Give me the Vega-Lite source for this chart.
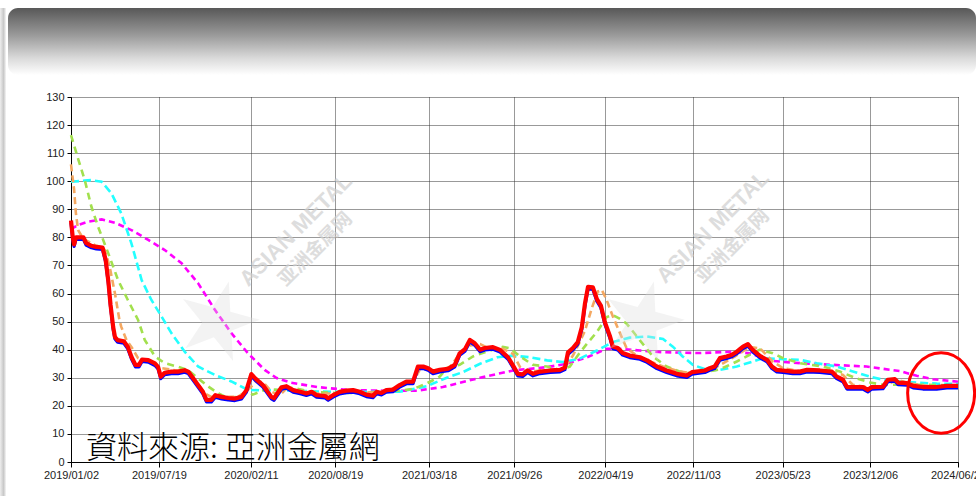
{
  "$schema": "https://vega.github.io/schema/vega-lite/v6.json",
  "autosize": {"type": "pad"},
  "padding": {"left": 0, "top": 8, "right": 0, "bottom": 10},
  "background": "#ffffff",
  "bounds": "flush",
  "spacing": 2,
  "config": {"view": {"stroke": null}, "font": "Liberation Sans"},
  "datasets": {
    "series": [
      {"d":"2019-01-02","s":"price","v":86},
      {"d":"2019-01-06","s":"price","v":80},
      {"d":"2019-01-09","s":"price","v":77.5},
      {"d":"2019-01-13","s":"price","v":80},
      {"d":"2019-01-30","s":"price","v":80},
      {"d":"2019-02-05","s":"price","v":78},
      {"d":"2019-02-17","s":"price","v":77},
      {"d":"2019-02-28","s":"price","v":76.6},
      {"d":"2019-03-14","s":"price","v":76.4},
      {"d":"2019-03-21","s":"price","v":72},
      {"d":"2019-03-27","s":"price","v":64.5},
      {"d":"2019-04-01","s":"price","v":56},
      {"d":"2019-04-07","s":"price","v":48},
      {"d":"2019-04-11","s":"price","v":44.5},
      {"d":"2019-04-17","s":"price","v":43.4},
      {"d":"2019-05-01","s":"price","v":43},
      {"d":"2019-05-10","s":"price","v":41},
      {"d":"2019-05-18","s":"price","v":37.5},
      {"d":"2019-05-27","s":"price","v":34.6},
      {"d":"2019-06-04","s":"price","v":34.6},
      {"d":"2019-06-11","s":"price","v":36.5},
      {"d":"2019-06-25","s":"price","v":36.3},
      {"d":"2019-07-10","s":"price","v":35.1},
      {"d":"2019-07-17","s":"price","v":33.9},
      {"d":"2019-07-23","s":"price","v":30.4},
      {"d":"2019-08-01","s":"price","v":31.8},
      {"d":"2019-08-16","s":"price","v":32.2},
      {"d":"2019-08-31","s":"price","v":32.2},
      {"d":"2019-09-15","s":"price","v":32.7},
      {"d":"2019-09-23","s":"price","v":32.2},
      {"d":"2019-10-04","s":"price","v":29.8},
      {"d":"2019-10-15","s":"price","v":27.4},
      {"d":"2019-10-26","s":"price","v":25},
      {"d":"2019-11-03","s":"price","v":22.1},
      {"d":"2019-11-14","s":"price","v":22.1},
      {"d":"2019-11-23","s":"price","v":23.8},
      {"d":"2019-12-07","s":"price","v":23.2},
      {"d":"2019-12-22","s":"price","v":22.8},
      {"d":"2020-01-06","s":"price","v":22.6},
      {"d":"2020-01-21","s":"price","v":23.2},
      {"d":"2020-02-01","s":"price","v":25.6},
      {"d":"2020-02-12","s":"price","v":31.3},
      {"d":"2020-02-22","s":"price","v":29.6},
      {"d":"2020-03-09","s":"price","v":27.4},
      {"d":"2020-03-28","s":"price","v":23.2},
      {"d":"2020-04-03","s":"price","v":22.7},
      {"d":"2020-04-20","s":"price","v":26.6},
      {"d":"2020-05-01","s":"price","v":27},
      {"d":"2020-05-16","s":"price","v":25.6},
      {"d":"2020-06-01","s":"price","v":25},
      {"d":"2020-06-15","s":"price","v":24.4},
      {"d":"2020-06-27","s":"price","v":25},
      {"d":"2020-07-08","s":"price","v":23.8},
      {"d":"2020-07-27","s":"price","v":23.5},
      {"d":"2020-08-03","s":"price","v":22.7},
      {"d":"2020-08-14","s":"price","v":23.8},
      {"d":"2020-08-29","s":"price","v":25},
      {"d":"2020-09-13","s":"price","v":25.4},
      {"d":"2020-09-28","s":"price","v":25.6},
      {"d":"2020-10-13","s":"price","v":25},
      {"d":"2020-10-28","s":"price","v":24},
      {"d":"2020-11-12","s":"price","v":23.6},
      {"d":"2020-11-20","s":"price","v":25},
      {"d":"2020-12-01","s":"price","v":24.6},
      {"d":"2020-12-12","s":"price","v":25.6},
      {"d":"2020-12-27","s":"price","v":25.8},
      {"d":"2021-01-11","s":"price","v":27.4},
      {"d":"2021-01-26","s":"price","v":28.6},
      {"d":"2021-02-10","s":"price","v":28.6},
      {"d":"2021-02-21","s":"price","v":34},
      {"d":"2021-03-05","s":"price","v":34},
      {"d":"2021-03-16","s":"price","v":33.4},
      {"d":"2021-03-27","s":"price","v":32.2},
      {"d":"2021-04-11","s":"price","v":32.8},
      {"d":"2021-04-30","s":"price","v":33.2},
      {"d":"2021-05-15","s":"price","v":34.6},
      {"d":"2021-05-26","s":"price","v":38.7},
      {"d":"2021-06-07","s":"price","v":40.2},
      {"d":"2021-06-18","s":"price","v":43.5},
      {"d":"2021-06-29","s":"price","v":42.3},
      {"d":"2021-07-11","s":"price","v":40},
      {"d":"2021-07-22","s":"price","v":40.6},
      {"d":"2021-08-09","s":"price","v":40.9},
      {"d":"2021-08-25","s":"price","v":39.9},
      {"d":"2021-09-12","s":"price","v":37.3},
      {"d":"2021-09-23","s":"price","v":34.4},
      {"d":"2021-10-04","s":"price","v":31.4},
      {"d":"2021-10-15","s":"price","v":31.2},
      {"d":"2021-10-26","s":"price","v":32.6},
      {"d":"2021-11-07","s":"price","v":31.4},
      {"d":"2021-11-23","s":"price","v":32.2},
      {"d":"2021-12-16","s":"price","v":32.6},
      {"d":"2022-01-07","s":"price","v":32.8},
      {"d":"2022-01-18","s":"price","v":33.6},
      {"d":"2022-01-25","s":"price","v":39.1},
      {"d":"2022-02-05","s":"price","v":40.6},
      {"d":"2022-02-16","s":"price","v":42.7},
      {"d":"2022-02-25","s":"price","v":48},
      {"d":"2022-03-04","s":"price","v":56.3},
      {"d":"2022-03-11","s":"price","v":62.4},
      {"d":"2022-03-22","s":"price","v":62.2},
      {"d":"2022-03-31","s":"price","v":58},
      {"d":"2022-04-09","s":"price","v":55.7},
      {"d":"2022-04-18","s":"price","v":49.8},
      {"d":"2022-04-29","s":"price","v":45},
      {"d":"2022-05-06","s":"price","v":41.1},
      {"d":"2022-05-17","s":"price","v":40.6},
      {"d":"2022-05-28","s":"price","v":38.8},
      {"d":"2022-06-13","s":"price","v":37.9},
      {"d":"2022-07-06","s":"price","v":37.3},
      {"d":"2022-07-22","s":"price","v":36.2},
      {"d":"2022-08-13","s":"price","v":34},
      {"d":"2022-09-04","s":"price","v":32.6},
      {"d":"2022-09-27","s":"price","v":31.4},
      {"d":"2022-10-19","s":"price","v":30.8},
      {"d":"2022-10-31","s":"price","v":32},
      {"d":"2022-11-29","s":"price","v":32.6},
      {"d":"2022-12-10","s":"price","v":33.4},
      {"d":"2022-12-21","s":"price","v":34},
      {"d":"2023-01-02","s":"price","v":37},
      {"d":"2023-01-17","s":"price","v":37.6},
      {"d":"2023-01-29","s":"price","v":38.2},
      {"d":"2023-02-09","s":"price","v":39.3},
      {"d":"2023-02-23","s":"price","v":41.1},
      {"d":"2023-03-06","s":"price","v":42},
      {"d":"2023-03-17","s":"price","v":39.9},
      {"d":"2023-04-02","s":"price","v":37.8},
      {"d":"2023-04-18","s":"price","v":36.4},
      {"d":"2023-04-29","s":"price","v":34},
      {"d":"2023-05-10","s":"price","v":32.8},
      {"d":"2023-05-24","s":"price","v":32.6},
      {"d":"2023-06-15","s":"price","v":32.2},
      {"d":"2023-07-01","s":"price","v":32.2},
      {"d":"2023-07-17","s":"price","v":32.8},
      {"d":"2023-08-15","s":"price","v":32.6},
      {"d":"2023-09-11","s":"price","v":32.2},
      {"d":"2023-09-22","s":"price","v":30.4},
      {"d":"2023-10-06","s":"price","v":29.3},
      {"d":"2023-10-15","s":"price","v":26.7},
      {"d":"2023-11-20","s":"price","v":26.7},
      {"d":"2023-12-01","s":"price","v":25.7},
      {"d":"2023-12-10","s":"price","v":26.7},
      {"d":"2024-01-04","s":"price","v":26.8},
      {"d":"2024-01-15","s":"price","v":29.3},
      {"d":"2024-01-31","s":"price","v":29.5},
      {"d":"2024-02-07","s":"price","v":28.3},
      {"d":"2024-02-27","s":"price","v":28.1},
      {"d":"2024-03-12","s":"price","v":27.1},
      {"d":"2024-04-03","s":"price","v":26.7},
      {"d":"2024-05-04","s":"price","v":26.7},
      {"d":"2024-05-27","s":"price","v":27.1},
      {"d":"2024-06-21","s":"price","v":27.1},

      {"d":"2019-01-02","s":"ma1","v":106},
      {"d":"2019-01-09","s":"ma1","v":97},
      {"d":"2019-01-13","s":"ma1","v":88.6},
      {"d":"2019-01-18","s":"ma1","v":82.6},
      {"d":"2019-01-30","s":"ma1","v":79.4},
      {"d":"2019-02-28","s":"ma1","v":77},
      {"d":"2019-03-14","s":"ma1","v":76.6},
      {"d":"2019-03-19","s":"ma1","v":75.5},
      {"d":"2019-03-30","s":"ma1","v":69.6},
      {"d":"2019-04-11","s":"ma1","v":60},
      {"d":"2019-04-21","s":"ma1","v":50.6},
      {"d":"2019-04-25","s":"ma1","v":48.2},
      {"d":"2019-05-07","s":"ma1","v":43.4},
      {"d":"2019-05-18","s":"ma1","v":41},
      {"d":"2019-06-02","s":"ma1","v":37},
      {"d":"2019-06-17","s":"ma1","v":36.3},
      {"d":"2019-07-10","s":"ma1","v":34.6},
      {"d":"2019-07-25","s":"ma1","v":33.4},
      {"d":"2019-08-24","s":"ma1","v":32.7},
      {"d":"2019-09-23","s":"ma1","v":32.2},
      {"d":"2019-10-15","s":"ma1","v":27.9},
      {"d":"2019-10-30","s":"ma1","v":24.4},
      {"d":"2019-11-14","s":"ma1","v":23.2},
      {"d":"2020-01-13","s":"ma1","v":23.2},
      {"d":"2020-02-04","s":"ma1","v":25.6},
      {"d":"2020-02-22","s":"ma1","v":28.5},
      {"d":"2020-03-09","s":"ma1","v":28.5},
      {"d":"2020-03-29","s":"ma1","v":25},
      {"d":"2020-04-16","s":"ma1","v":23.8},
      {"d":"2020-05-02","s":"ma1","v":26.3},
      {"d":"2020-06-01","s":"ma1","v":25.2},
      {"d":"2020-07-16","s":"ma1","v":24.3},
      {"d":"2020-08-29","s":"ma1","v":24.5},
      {"d":"2020-10-13","s":"ma1","v":25},
      {"d":"2020-11-27","s":"ma1","v":24.5},
      {"d":"2021-01-11","s":"ma1","v":27},
      {"d":"2021-02-10","s":"ma1","v":28.5},
      {"d":"2021-02-25","s":"ma1","v":32.8},
      {"d":"2021-03-13","s":"ma1","v":33},
      {"d":"2021-04-11","s":"ma1","v":32.6},
      {"d":"2021-05-05","s":"ma1","v":34},
      {"d":"2021-05-26","s":"ma1","v":38.5},
      {"d":"2021-06-18","s":"ma1","v":41.5},
      {"d":"2021-07-11","s":"ma1","v":42},
      {"d":"2021-08-02","s":"ma1","v":40.3},
      {"d":"2021-08-31","s":"ma1","v":40.3},
      {"d":"2021-09-23","s":"ma1","v":38.5},
      {"d":"2021-10-09","s":"ma1","v":33.8},
      {"d":"2021-10-24","s":"ma1","v":32},
      {"d":"2021-11-23","s":"ma1","v":32.6},
      {"d":"2022-01-13","s":"ma1","v":32.6},
      {"d":"2022-02-05","s":"ma1","v":37.9},
      {"d":"2022-02-20","s":"ma1","v":42.6},
      {"d":"2022-03-04","s":"ma1","v":46.7},
      {"d":"2022-03-20","s":"ma1","v":55},
      {"d":"2022-04-02","s":"ma1","v":60.7},
      {"d":"2022-04-11","s":"ma1","v":61.3},
      {"d":"2022-04-22","s":"ma1","v":57.7},
      {"d":"2022-05-06","s":"ma1","v":51.8},
      {"d":"2022-05-22","s":"ma1","v":45.9},
      {"d":"2022-06-06","s":"ma1","v":40.5},
      {"d":"2022-06-29","s":"ma1","v":37.9},
      {"d":"2022-07-22","s":"ma1","v":36.2},
      {"d":"2022-08-27","s":"ma1","v":34},
      {"d":"2022-10-04","s":"ma1","v":32.2},
      {"d":"2022-11-02","s":"ma1","v":31.5},
      {"d":"2022-12-06","s":"ma1","v":32.6},
      {"d":"2023-01-02","s":"ma1","v":34.5},
      {"d":"2023-02-04","s":"ma1","v":37.5},
      {"d":"2023-03-10","s":"ma1","v":41},
      {"d":"2023-04-02","s":"ma1","v":40.5},
      {"d":"2023-05-01","s":"ma1","v":35.8},
      {"d":"2023-05-24","s":"ma1","v":33.4},
      {"d":"2023-07-01","s":"ma1","v":32.4},
      {"d":"2023-09-06","s":"ma1","v":32.4},
      {"d":"2023-10-06","s":"ma1","v":31},
      {"d":"2023-10-28","s":"ma1","v":27.5},
      {"d":"2023-12-06","s":"ma1","v":26.5},
      {"d":"2024-01-04","s":"ma1","v":26.7},
      {"d":"2024-02-05","s":"ma1","v":29.3},
      {"d":"2024-03-04","s":"ma1","v":28},
      {"d":"2024-04-18","s":"ma1","v":27},
      {"d":"2024-06-21","s":"ma1","v":27},

      {"d":"2019-01-02","s":"ma2","v":116.4},
      {"d":"2019-01-18","s":"ma2","v":108},
      {"d":"2019-02-02","s":"ma2","v":100.4},
      {"d":"2019-02-17","s":"ma2","v":90.9},
      {"d":"2019-03-04","s":"ma2","v":83.8},
      {"d":"2019-03-27","s":"ma2","v":74.3},
      {"d":"2019-04-18","s":"ma2","v":64.8},
      {"d":"2019-05-10","s":"ma2","v":57.7},
      {"d":"2019-06-02","s":"ma2","v":50.6},
      {"d":"2019-06-17","s":"ma2","v":43.5},
      {"d":"2019-07-10","s":"ma2","v":37.6},
      {"d":"2019-08-01","s":"ma2","v":35.2},
      {"d":"2019-08-31","s":"ma2","v":33.9},
      {"d":"2019-09-23","s":"ma2","v":32.7},
      {"d":"2019-10-15","s":"ma2","v":29.8},
      {"d":"2019-11-07","s":"ma2","v":26.9},
      {"d":"2019-11-30","s":"ma2","v":24.4},
      {"d":"2019-12-22","s":"ma2","v":22.7},
      {"d":"2020-01-13","s":"ma2","v":23.2},
      {"d":"2020-02-04","s":"ma2","v":25.1},
      {"d":"2020-02-15","s":"ma2","v":24},
      {"d":"2020-03-18","s":"ma2","v":26},
      {"d":"2020-04-16","s":"ma2","v":25.6},
      {"d":"2020-05-16","s":"ma2","v":26.5},
      {"d":"2020-06-23","s":"ma2","v":25},
      {"d":"2020-08-29","s":"ma2","v":24.5},
      {"d":"2020-11-05","s":"ma2","v":24.8},
      {"d":"2020-12-27","s":"ma2","v":25.2},
      {"d":"2021-02-10","s":"ma2","v":26},
      {"d":"2021-03-13","s":"ma2","v":28},
      {"d":"2021-04-11","s":"ma2","v":30.4},
      {"d":"2021-04-27","s":"ma2","v":33.4},
      {"d":"2021-05-26","s":"ma2","v":34.6},
      {"d":"2021-06-25","s":"ma2","v":37.6},
      {"d":"2021-07-26","s":"ma2","v":39.3},
      {"d":"2021-08-31","s":"ma2","v":41},
      {"d":"2021-09-16","s":"ma2","v":40.5},
      {"d":"2021-10-09","s":"ma2","v":37.6},
      {"d":"2021-11-07","s":"ma2","v":34.6},
      {"d":"2021-12-09","s":"ma2","v":34},
      {"d":"2022-01-07","s":"ma2","v":32.8},
      {"d":"2022-01-29","s":"ma2","v":34},
      {"d":"2022-02-20","s":"ma2","v":38.8},
      {"d":"2022-03-09","s":"ma2","v":42.2},
      {"d":"2022-03-31","s":"ma2","v":46.3},
      {"d":"2022-04-22","s":"ma2","v":51.6},
      {"d":"2022-05-06","s":"ma2","v":52.3},
      {"d":"2022-05-22","s":"ma2","v":51},
      {"d":"2022-06-06","s":"ma2","v":49.3},
      {"d":"2022-07-06","s":"ma2","v":43.3},
      {"d":"2022-08-04","s":"ma2","v":37.6},
      {"d":"2022-09-04","s":"ma2","v":34},
      {"d":"2022-10-04","s":"ma2","v":32.2},
      {"d":"2022-11-02","s":"ma2","v":31.5},
      {"d":"2022-12-04","s":"ma2","v":32.2},
      {"d":"2023-01-02","s":"ma2","v":33},
      {"d":"2023-02-09","s":"ma2","v":35.8},
      {"d":"2023-03-10","s":"ma2","v":38.2},
      {"d":"2023-04-02","s":"ma2","v":40},
      {"d":"2023-05-01","s":"ma2","v":38.7},
      {"d":"2023-05-24","s":"ma2","v":37},
      {"d":"2023-07-01","s":"ma2","v":35.2},
      {"d":"2023-08-22","s":"ma2","v":34},
      {"d":"2023-09-29","s":"ma2","v":32.2},
      {"d":"2023-11-05","s":"ma2","v":29.8},
      {"d":"2023-12-06","s":"ma2","v":28.3},
      {"d":"2024-01-04","s":"ma2","v":27.5},
      {"d":"2024-03-27","s":"ma2","v":27.5},
      {"d":"2024-06-21","s":"ma2","v":27.3},

      {"d":"2019-01-02","s":"ma3","v":99.8},
      {"d":"2019-02-02","s":"ma3","v":100.2},
      {"d":"2019-02-17","s":"ma3","v":100.4},
      {"d":"2019-03-12","s":"ma3","v":99.8},
      {"d":"2019-04-03","s":"ma3","v":95.7},
      {"d":"2019-04-25","s":"ma3","v":88.6},
      {"d":"2019-05-18","s":"ma3","v":77.9},
      {"d":"2019-06-10","s":"ma3","v":64.8},
      {"d":"2019-07-02","s":"ma3","v":57.7},
      {"d":"2019-07-25","s":"ma3","v":51.8},
      {"d":"2019-08-16","s":"ma3","v":45.9},
      {"d":"2019-09-15","s":"ma3","v":39.3},
      {"d":"2019-10-15","s":"ma3","v":34},
      {"d":"2019-11-22","s":"ma3","v":31},
      {"d":"2019-12-29","s":"ma3","v":28.7},
      {"d":"2020-02-04","s":"ma3","v":25.7},
      {"d":"2020-03-06","s":"ma3","v":25.5},
      {"d":"2020-04-09","s":"ma3","v":25.6},
      {"d":"2020-06-01","s":"ma3","v":25.3},
      {"d":"2020-08-13","s":"ma3","v":25},
      {"d":"2020-10-29","s":"ma3","v":25},
      {"d":"2021-01-11","s":"ma3","v":25},
      {"d":"2021-03-13","s":"ma3","v":27},
      {"d":"2021-04-27","s":"ma3","v":30},
      {"d":"2021-06-02","s":"ma3","v":32},
      {"d":"2021-07-11","s":"ma3","v":35},
      {"d":"2021-08-19","s":"ma3","v":37.3},
      {"d":"2021-09-23","s":"ma3","v":37.9},
      {"d":"2021-10-31","s":"ma3","v":37.3},
      {"d":"2021-12-09","s":"ma3","v":36.2},
      {"d":"2022-01-13","s":"ma3","v":35.6},
      {"d":"2022-02-20","s":"ma3","v":36.8},
      {"d":"2022-03-31","s":"ma3","v":39.7},
      {"d":"2022-05-06","s":"ma3","v":42.7},
      {"d":"2022-06-13","s":"ma3","v":44.3},
      {"d":"2022-07-22","s":"ma3","v":44.7},
      {"d":"2022-08-27","s":"ma3","v":43.8},
      {"d":"2022-09-18","s":"ma3","v":41.1},
      {"d":"2022-10-10","s":"ma3","v":37.6},
      {"d":"2022-11-02","s":"ma3","v":34.6},
      {"d":"2022-12-04","s":"ma3","v":32.8},
      {"d":"2023-01-02","s":"ma3","v":32.8},
      {"d":"2023-02-09","s":"ma3","v":34},
      {"d":"2023-03-17","s":"ma3","v":35.8},
      {"d":"2023-04-09","s":"ma3","v":37},
      {"d":"2023-05-24","s":"ma3","v":36.6},
      {"d":"2023-07-01","s":"ma3","v":36.4},
      {"d":"2023-08-08","s":"ma3","v":35.2},
      {"d":"2023-09-22","s":"ma3","v":34},
      {"d":"2023-11-05","s":"ma3","v":31.9},
      {"d":"2023-12-06","s":"ma3","v":30.4},
      {"d":"2024-01-04","s":"ma3","v":29.3},
      {"d":"2024-02-05","s":"ma3","v":28.7},
      {"d":"2024-03-20","s":"ma3","v":28.3},
      {"d":"2024-05-04","s":"ma3","v":27.9},
      {"d":"2024-06-21","s":"ma3","v":27.8},

      {"d":"2019-01-02","s":"ma4","v":82.9},
      {"d":"2019-01-18","s":"ma4","v":84.4},
      {"d":"2019-02-10","s":"ma4","v":85.6},
      {"d":"2019-03-12","s":"ma4","v":86.4},
      {"d":"2019-04-11","s":"ma4","v":85.2},
      {"d":"2019-05-18","s":"ma4","v":82.6},
      {"d":"2019-06-25","s":"ma4","v":79.1},
      {"d":"2019-08-01","s":"ma4","v":75.5},
      {"d":"2019-09-08","s":"ma4","v":70.8},
      {"d":"2019-10-15","s":"ma4","v":63.7},
      {"d":"2019-11-22","s":"ma4","v":54.2},
      {"d":"2019-12-29","s":"ma4","v":45.9},
      {"d":"2020-02-04","s":"ma4","v":38.8},
      {"d":"2020-03-13","s":"ma4","v":32.8},
      {"d":"2020-04-09","s":"ma4","v":29.9},
      {"d":"2020-05-10","s":"ma4","v":28.3},
      {"d":"2020-07-09","s":"ma4","v":26.7},
      {"d":"2020-09-21","s":"ma4","v":25.6},
      {"d":"2020-12-04","s":"ma4","v":25.4},
      {"d":"2021-02-19","s":"ma4","v":25.4},
      {"d":"2021-04-18","s":"ma4","v":26.7},
      {"d":"2021-07-11","s":"ma4","v":30},
      {"d":"2021-09-23","s":"ma4","v":32.6},
      {"d":"2021-12-09","s":"ma4","v":33.8},
      {"d":"2022-01-22","s":"ma4","v":35},
      {"d":"2022-03-09","s":"ma4","v":37.3},
      {"d":"2022-04-22","s":"ma4","v":40.3},
      {"d":"2022-05-22","s":"ma4","v":40.3},
      {"d":"2022-07-06","s":"ma4","v":39.7},
      {"d":"2022-08-27","s":"ma4","v":39.1},
      {"d":"2022-11-18","s":"ma4","v":38.8},
      {"d":"2023-01-31","s":"ma4","v":39.3},
      {"d":"2023-03-10","s":"ma4","v":38.7},
      {"d":"2023-05-01","s":"ma4","v":36},
      {"d":"2023-07-01","s":"ma4","v":35.2},
      {"d":"2023-09-14","s":"ma4","v":34.6},
      {"d":"2023-11-28","s":"ma4","v":34},
      {"d":"2024-01-04","s":"ma4","v":33.2},
      {"d":"2024-02-11","s":"ma4","v":32.4},
      {"d":"2024-03-20","s":"ma4","v":30.7},
      {"d":"2024-04-25","s":"ma4","v":29.5},
      {"d":"2024-06-21","s":"ma4","v":28.6}
    ]
  },
  "hconcat": [
    {
      "width": 6,
      "height": 488,
      "view": {
        "fill": {"gradient": "linear", "x1": 0, "y1": 0, "x2": 1, "y2": 0,
          "stops": [
            {"offset": 0, "color": "#eeeeee"},
            {"offset": 0.6, "color": "#c8c8c8"},
            {"offset": 1, "color": "#f6f6f6"}
          ]},
        "stroke": null
      },
      "data": {"values": [{"t": ""}]},
      "mark": {"type": "text"},
      "encoding": {"text": {"field": "t"}}
    },
    {
      "bounds": "flush",
      "spacing": 22,
      "vconcat": [
        {
          "width": 968,
          "height": 67,
          "view": {
            "fill": {"gradient": "linear", "x1": 0, "y1": 0, "x2": 0, "y2": 1,
              "stops": [
                {"offset": 0, "color": "#585858"},
                {"offset": 0.4, "color": "#999999"},
                {"offset": 0.75, "color": "#dadada"},
                {"offset": 1, "color": "#ffffff"}
              ]},
            "stroke": null,
            "cornerRadius": 10
          },
          "data": {"values": [{"t": ""}]},
          "mark": {"type": "text"},
          "encoding": {"text": {"field": "t"}}
        },
        {
          "bounds": "flush",
          "spacing": 0,
          "hconcat": [
            {
              "width": 63,
              "height": 365,
              "view": {"stroke": null},
              "data": {"values": [{"t": ""}]},
              "mark": {"type": "text"},
              "encoding": {"text": {"field": "t"}}
            },
            {
              "width": 887,
              "height": 365,
              "view": {"stroke": null},
              "layer": [
                {
                  "data": {"name": "series"},
                  "encoding": {
                    "x": {
                      "field": "d", "type": "temporal",
                      "scale": {"type": "utc", "nice": false,
                        "domain": [{"year": 2019, "month": 1, "date": 2, "utc": true}, {"year": 2024, "month": 6, "date": 21, "utc": true}]},
                      "axis": {
                        "title": null,
                        "values": [
                          {"year": 2019, "month": 1, "date": 2, "utc": true},
                          {"year": 2019, "month": 7, "date": 19, "utc": true},
                          {"year": 2020, "month": 2, "date": 11, "utc": true},
                          {"year": 2020, "month": 8, "date": 19, "utc": true},
                          {"year": 2021, "month": 3, "date": 18, "utc": true},
                          {"year": 2021, "month": 9, "date": 26, "utc": true},
                          {"year": 2022, "month": 4, "date": 19, "utc": true},
                          {"year": 2022, "month": 11, "date": 3, "utc": true},
                          {"year": 2023, "month": 5, "date": 23, "utc": true},
                          {"year": 2023, "month": 12, "date": 6, "utc": true},
                          {"year": 2024, "month": 6, "date": 21, "utc": true}
                        ],
                        "format": "%Y/%m/%d",
                        "labelFont": "Liberation Sans", "labelFontSize": 11, "labelColor": "#222222",
                        "labelFlush": false, "labelOverlap": false, "labelPadding": 2,
                        "tickSize": 5, "tickColor": "#000000", "domainColor": "#000000", "domainWidth": 1,
                        "grid": true, "gridColor": "#333333", "gridDash": [1, 1], "gridOpacity": 1, "gridWidth": 1
                      }
                    },
                    "y": {
                      "field": "v", "type": "quantitative",
                      "scale": {"domain": [0, 130], "nice": false, "zero": false},
                      "axis": {
                        "title": null,
                        "values": [0, 10, 20, 30, 40, 50, 60, 70, 80, 90, 100, 110, 120, 130],
                        "labelFont": "Liberation Sans", "labelFontSize": 11, "labelColor": "#222222",
                        "labelFlush": false, "labelOverlap": false, "labelPadding": 3,
                        "tickSize": 4, "tickColor": "#000000", "domainColor": "#000000", "domainWidth": 1,
                        "grid": true, "gridColor": "#333333", "gridDash": [1, 1], "gridOpacity": 1, "gridWidth": 1
                      }
                    }
                  },
                  "layer": [
                    {
                      "transform": [{"filter": "datum.s === 'ma4'"}],
                      "mark": {"type": "line", "color": "#ff00ff", "strokeWidth": 2.6, "strokeDash": [6, 4]}
                    },
                    {
                      "transform": [{"filter": "datum.s === 'ma3'"}],
                      "mark": {"type": "line", "color": "#22ffff", "strokeWidth": 2.6, "strokeDash": [8, 4]}
                    },
                    {
                      "transform": [{"filter": "datum.s === 'ma2'"}],
                      "mark": {"type": "line", "color": "#a2e04e", "strokeWidth": 2.6, "strokeDash": [7, 5]}
                    },
                    {
                      "transform": [{"filter": "datum.s === 'ma1'"}],
                      "mark": {"type": "line", "color": "#f4a862", "strokeWidth": 2.6, "strokeDash": [7, 4]}
                    },
                    {
                      "transform": [{"filter": "datum.s === 'price'"}],
                      "mark": {"type": "line", "color": "#0000ff", "strokeWidth": 3.2, "yOffset": 2, "strokeJoin": "round"}
                    },
                    {
                      "transform": [{"filter": "datum.s === 'price'"}],
                      "mark": {"type": "line", "color": "#ff0000", "strokeWidth": 4.2, "strokeJoin": "round"}
                    }
                  ]
                },
                {
                  "data": {"values": [{"k": "star"}]},
                  "mark": {"type": "point", "shape": "M0,-1L0.22,-0.31L0.95,-0.31L0.36,0.12L0.59,0.81L0,0.38L-0.59,0.81L-0.36,0.12L-0.95,-0.31L-0.22,-0.31Z", "size": 7000, "filled": true, "fill": "#dcdcdc", "stroke": null, "opacity": 0.35, "angle": 15},
                  "encoding": {
                    "x": {"datum": {"year": 2019, "month": 11, "date": 29, "utc": true}, "type": "temporal", "scale": {"type": "utc"}},
                    "y": {"datum": 49.9, "type": "quantitative",
                      "axis": {"title": null, "values": [0, 10, 20, 30, 40, 50, 60, 70, 80, 90, 100, 110, 120, 130], "labelFont": "Liberation Sans", "labelFontSize": 11, "labelColor": "#222222", "labelFlush": false, "labelOverlap": false, "labelPadding": 3, "tickSize": 4, "tickColor": "#000000", "domainColor": "#000000", "domainWidth": 1, "grid": true, "gridColor": "#333333", "gridDash": [1, 1], "gridOpacity": 1, "gridWidth": 1}}
                  }
                },
                {
                  "data": {"values": [{"k": "star"}]},
                  "mark": {"type": "point", "shape": "M0,-1L0.22,-0.31L0.95,-0.31L0.36,0.12L0.59,0.81L0,0.38L-0.59,0.81L-0.36,0.12L-0.95,-0.31L-0.22,-0.31Z", "size": 7000, "filled": true, "fill": "#dcdcdc", "stroke": null, "opacity": 0.35, "angle": 15},
                  "encoding": {
                    "x": {"datum": {"year": 2022, "month": 7, "date": 13, "utc": true}, "type": "temporal", "scale": {"type": "utc"}},
                    "y": {"datum": 49.9, "type": "quantitative",
                      "axis": {"title": null, "values": [0, 10, 20, 30, 40, 50, 60, 70, 80, 90, 100, 110, 120, 130], "labelFont": "Liberation Sans", "labelFontSize": 11, "labelColor": "#222222", "labelFlush": false, "labelOverlap": false, "labelPadding": 3, "tickSize": 4, "tickColor": "#000000", "domainColor": "#000000", "domainWidth": 1, "grid": true, "gridColor": "#333333", "gridDash": [1, 1], "gridOpacity": 1, "gridWidth": 1}}
                  }
                },
                {
                  "data": {"values": [{"k": "wm"}]},
                  "mark": {"type": "text", "text": "ASIAN METAL", "font": "Liberation Sans", "fontSize": 22, "fontWeight": "bold", "color": "#cfcfcf", "opacity": 0.7, "angle": -45, "align": "center", "baseline": "middle"},
                  "encoding": {
                    "x": {"datum": {"year": 2020, "month": 5, "date": 22, "utc": true}, "type": "temporal", "scale": {"type": "utc"}},
                    "y": {"datum": 82.6, "type": "quantitative",
                      "axis": {"title": null, "values": [0, 10, 20, 30, 40, 50, 60, 70, 80, 90, 100, 110, 120, 130], "labelFont": "Liberation Sans", "labelFontSize": 11, "labelColor": "#222222", "labelFlush": false, "labelOverlap": false, "labelPadding": 3, "tickSize": 4, "tickColor": "#000000", "domainColor": "#000000", "domainWidth": 1, "grid": true, "gridColor": "#333333", "gridDash": [1, 1], "gridOpacity": 1, "gridWidth": 1}}
                  }
                },
                {
                  "data": {"values": [{"k": "wm"}]},
                  "mark": {"type": "text", "text": "亚洲金属网", "font": "Noto Sans CJK SC", "fontSize": 19, "fontWeight": "bold", "color": "#cfcfcf", "opacity": 0.7, "angle": -45, "align": "center", "baseline": "middle"},
                  "encoding": {
                    "x": {"datum": {"year": 2020, "month": 7, "date": 5, "utc": true}, "type": "temporal", "scale": {"type": "utc"}},
                    "y": {"datum": 75.8, "type": "quantitative",
                      "axis": {"title": null, "values": [0, 10, 20, 30, 40, 50, 60, 70, 80, 90, 100, 110, 120, 130], "labelFont": "Liberation Sans", "labelFontSize": 11, "labelColor": "#222222", "labelFlush": false, "labelOverlap": false, "labelPadding": 3, "tickSize": 4, "tickColor": "#000000", "domainColor": "#000000", "domainWidth": 1, "grid": true, "gridColor": "#333333", "gridDash": [1, 1], "gridOpacity": 1, "gridWidth": 1}}
                  }
                },
                {
                  "data": {"values": [{"k": "wm"}]},
                  "mark": {"type": "text", "text": "ASIAN METAL", "font": "Liberation Sans", "fontSize": 22, "fontWeight": "bold", "color": "#cfcfcf", "opacity": 0.7, "angle": -45, "align": "center", "baseline": "middle"},
                  "encoding": {
                    "x": {"datum": {"year": 2022, "month": 12, "date": 17, "utc": true}, "type": "temporal", "scale": {"type": "utc"}},
                    "y": {"datum": 83.7, "type": "quantitative",
                      "axis": {"title": null, "values": [0, 10, 20, 30, 40, 50, 60, 70, 80, 90, 100, 110, 120, 130], "labelFont": "Liberation Sans", "labelFontSize": 11, "labelColor": "#222222", "labelFlush": false, "labelOverlap": false, "labelPadding": 3, "tickSize": 4, "tickColor": "#000000", "domainColor": "#000000", "domainWidth": 1, "grid": true, "gridColor": "#333333", "gridDash": [1, 1], "gridOpacity": 1, "gridWidth": 1}}
                  }
                },
                {
                  "data": {"values": [{"k": "wm"}]},
                  "mark": {"type": "text", "text": "亚洲金属网", "font": "Noto Sans CJK SC", "fontSize": 19, "fontWeight": "bold", "color": "#cfcfcf", "opacity": 0.7, "angle": -45, "align": "center", "baseline": "middle"},
                  "encoding": {
                    "x": {"datum": {"year": 2023, "month": 1, "date": 30, "utc": true}, "type": "temporal", "scale": {"type": "utc"}},
                    "y": {"datum": 76.9, "type": "quantitative",
                      "axis": {"title": null, "values": [0, 10, 20, 30, 40, 50, 60, 70, 80, 90, 100, 110, 120, 130], "labelFont": "Liberation Sans", "labelFontSize": 11, "labelColor": "#222222", "labelFlush": false, "labelOverlap": false, "labelPadding": 3, "tickSize": 4, "tickColor": "#000000", "domainColor": "#000000", "domainWidth": 1, "grid": true, "gridColor": "#333333", "gridDash": [1, 1], "gridOpacity": 1, "gridWidth": 1}}
                  }
                },
                {
                  "data": {"values": [{"k": "source"}]},
                  "mark": {"type": "text", "text": "資料來源: 亞洲金屬網", "font": "Noto Sans CJK TC", "fontWeight": 300, "fontSize": 31, "color": "#000000", "align": "left", "baseline": "alphabetic", "dy": -4},
                  "encoding": {
                    "x": {"datum": {"year": 2019, "month": 2, "date": 5, "utc": true}, "type": "temporal", "scale": {"type": "utc"}},
                    "y": {"datum": 0, "type": "quantitative",
                      "axis": {"title": null, "values": [0, 10, 20, 30, 40, 50, 60, 70, 80, 90, 100, 110, 120, 130], "labelFont": "Liberation Sans", "labelFontSize": 11, "labelColor": "#222222", "labelFlush": false, "labelOverlap": false, "labelPadding": 3, "tickSize": 4, "tickColor": "#000000", "domainColor": "#000000", "domainWidth": 1, "grid": true, "gridColor": "#333333", "gridDash": [1, 1], "gridOpacity": 1, "gridWidth": 1}}
                  }
                },
                {
                  "data": {"values": [{"k": "mark"}]},
                  "mark": {"type": "point", "shape": "M -1 0 A 1 1.2 0 1 1 1 0 A 1 1.2 0 1 1 -1 0 Z", "size": 4489, "filled": false, "stroke": "#ff0000", "strokeWidth": 3, "opacity": 1},
                  "encoding": {
                    "x": {"datum": {"year": 2024, "month": 5, "date": 14, "utc": true}, "type": "temporal", "scale": {"type": "utc"}},
                    "y": {"datum": 24.6, "type": "quantitative",
                      "axis": {"title": null, "values": [0, 10, 20, 30, 40, 50, 60, 70, 80, 90, 100, 110, 120, 130], "labelFont": "Liberation Sans", "labelFontSize": 11, "labelColor": "#222222", "labelFlush": false, "labelOverlap": false, "labelPadding": 3, "tickSize": 4, "tickColor": "#000000", "domainColor": "#000000", "domainWidth": 1, "grid": true, "gridColor": "#333333", "gridDash": [1, 1], "gridOpacity": 1, "gridWidth": 1}}
                  }
                }
              ]
            }
          ]
        }
      ]
    }
  ]
}
